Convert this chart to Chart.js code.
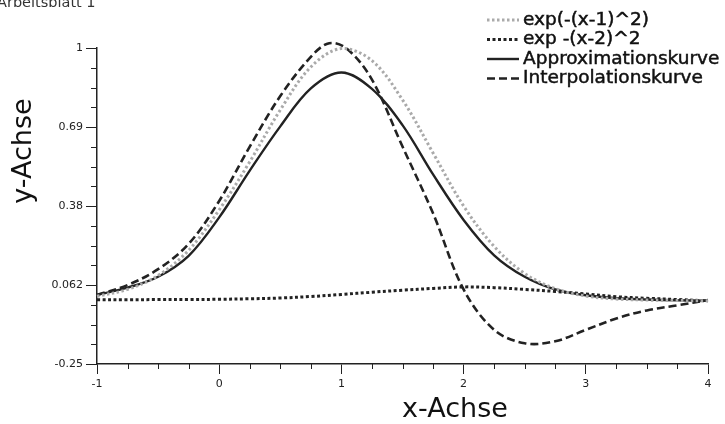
<!DOCTYPE html>
<html><head><meta charset="utf-8">
<style>html,body{margin:0;padding:0;background:#fff;overflow:hidden}#wrap{width:725px;height:424px;position:relative}</style>
<script src="https://cdn.jsdelivr.net/npm/chart.js@4.4.1/dist/chart.umd.min.js"></script>
</head><body><div id="wrap"><canvas id="c" width="725" height="424"></canvas></div>
<script>
const sheetTitle = 'Arbeitsblatt 1';
const xTitle = 'x-Achse';
const yTitle = 'y-Achse';
const seriesNames = ['exp(-(x-1)^2)', 'exp -(x-2)^2', 'Approximationskurve', 'Interpolationskurve'];
const xValues = [-1,-0.75,-0.5,-0.25,0,0.25,0.5,0.75,1,1.25,1.5,1.75,2,2.25,2.5,2.75,3,3.25,3.5,3.75,4];
const gauss1 = [0.018,0.045,0.100,0.200,0.360,0.550,0.755,0.925,0.998,0.950,0.795,0.585,0.375,0.215,0.108,0.048,0.019,0.007,0.003,0.001,0.0];
const gauss2 = [0.004,0.004,0.005,0.005,0.006,0.008,0.011,0.017,0.025,0.034,0.042,0.049,0.055,0.052,0.045,0.037,0.027,0.016,0.010,0.005,0.0];
const approx = [0.023,0.052,0.095,0.178,0.330,0.515,0.690,0.840,0.903,0.838,0.695,0.500,0.320,0.180,0.095,0.045,0.022,0.010,0.005,0.002,0.0];
const interpX = [-1,-0.75,-0.5,-0.25,0,0.25,0.5,0.75,0.9,1.05,1.25,1.5,1.75,2,2.25,2.5,2.75,3,3.25,3.5,3.75,4];
const interp = [0.023,0.062,0.125,0.225,0.395,0.610,0.810,0.965,1.019,0.995,0.875,0.610,0.346,0.045,-0.115,-0.168,-0.160,-0.115,-0.070,-0.038,-0.018,0.003];
const xTickValues = [-1,0,1,2,3,4];
const xMinorValues = [-0.75,-0.5,-0.25,0.25,0.5,0.75,1.25,1.5,1.75,2.25,2.5,2.75,3.25,3.5,3.75];
const yTickValues = [-0.25,0.0625,0.375,0.6875,1];
const yTickLabels = ['-0.25','0.062','0.38','0.69','1'];
const yMinorValues = [-0.171875,-0.09375,-0.015625,0.140625,0.21875,0.296875,0.453125,0.53125,0.609375,0.765625,0.84375,0.921875];

const pts = (xs, ys) => xs.map((x, i) => ({x, y: ys[i]}));
const INK = '#222';

const decor = {
  id: 'decor',
  afterDraw(chart) {
    const {ctx, chartArea: a} = chart;
    const sx = chart.scales.x, sy = chart.scales.y;
    ctx.save();
    ctx.strokeStyle = INK; ctx.lineWidth = 1;
    xMinorValues.forEach(v => {
      const px = Math.round(sx.getPixelForValue(v)) + 0.5;
      ctx.beginPath(); ctx.moveTo(px, a.bottom); ctx.lineTo(px, a.bottom + 5); ctx.stroke();
    });
    yMinorValues.forEach(v => {
      const py = Math.round(sy.getPixelForValue(v)) + 0.5;
      ctx.beginPath(); ctx.moveTo(a.left, py); ctx.lineTo(a.left - 6, py); ctx.stroke();
    });
    ctx.fillStyle = '#111';
    ctx.font = '27px "DejaVu Sans"';
    ctx.textAlign = 'center'; ctx.textBaseline = 'middle';
    ctx.fillText(xTitle, 455, 410);
    ctx.save(); ctx.translate(24, 151); ctx.rotate(-Math.PI / 2); ctx.fillText(yTitle, 0, 0); ctx.restore();
    ctx.font = '14.5px "DejaVu Sans"'; ctx.textAlign = 'left'; ctx.textBaseline = 'alphabetic';
    ctx.fillStyle = '#333';
    ctx.fillText(sheetTitle, -3, 7);
    ctx.font = '18.5px "DejaVu Sans"'; ctx.textBaseline = 'middle';
    chart.data.datasets.forEach((ds, i) => {
      const yy = 20 + i * 19.5;
      ctx.strokeStyle = ds.borderColor; ctx.lineWidth = ds.borderWidth;
      ctx.setLineDash(ds.borderDash || []);
      ctx.beginPath(); ctx.moveTo(487, yy); ctx.lineTo(519, yy); ctx.stroke();
      ctx.setLineDash([]);
      ctx.fillStyle = '#111'; ctx.strokeStyle = '#111'; ctx.lineWidth = 0.5;
      ctx.fillText(ds.label, 523, yy);
      ctx.strokeText(ds.label, 523, yy);
    });
    ctx.restore();
  }
};

new Chart(document.getElementById('c'), {
  type: 'line',
  data: {
    datasets: [
      {label: seriesNames[0], data: pts(xValues, gauss1), borderColor: '#aaaaaa', borderWidth: 3, borderDash: [2.5, 2.5]},
      {label: seriesNames[1], data: pts(xValues, gauss2), borderColor: INK, borderWidth: 3, borderDash: [3, 2.5]},
      {label: seriesNames[2], data: pts(xValues, approx), borderColor: INK, borderWidth: 2.4},
      {label: seriesNames[3], data: pts(interpX, interp), borderColor: INK, borderWidth: 2.6, borderDash: [8, 4]}
    ]
  },
  options: {
    responsive: false, animation: false, devicePixelRatio: 1,
    layout: {padding: {top: 48, right: 17, left: 0, bottom: 0}},
    elements: {point: {radius: 0}, line: {tension: 0.35, fill: false}},
    datasets: {line: {clip: false}},
    plugins: {legend: {display: false}, tooltip: {enabled: false}},
    scales: {
      x: {
        type: 'linear', min: -1, max: 4,
        afterBuildTicks: s => { s.ticks = xTickValues.map(v => ({value: v})); },
        afterFit: s => { s.height = 60; },
        ticks: {color: INK, font: {family: 'DejaVu Sans', size: 11}, padding: 4, maxRotation: 0, autoSkip: false},
        grid: {drawOnChartArea: false, drawTicks: true, tickLength: 10, tickColor: INK, tickWidth: 1},
        border: {color: INK, width: 1.5}
      },
      y: {
        type: 'linear', min: -0.25, max: 1,
        afterBuildTicks: s => { s.ticks = yTickValues.map(v => ({value: v})); },
        afterFit: s => { s.width = 97; },
        ticks: {color: INK, font: {family: 'DejaVu Sans', size: 11}, padding: 3, autoSkip: false,
          callback: (v, i) => yTickLabels[i]},
        grid: {drawOnChartArea: false, drawTicks: true, tickLength: 11, tickColor: INK, tickWidth: 1},
        border: {color: INK, width: 1.5}
      }
    }
  },
  plugins: [decor]
});
</script></body></html>
